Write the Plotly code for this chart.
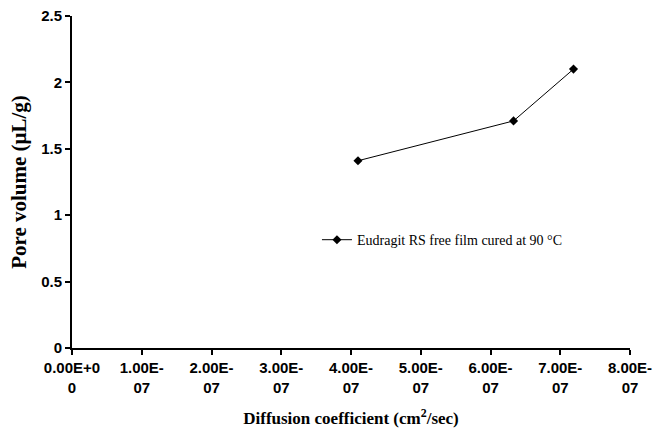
import plotly.graph_objects as go

x_vals = [4.10e-7, 6.33e-7, 7.19e-7]
y_vals = [1.41, 1.71, 2.10]
series_name = "Eudragit RS free film cured at 90 °C"
x_ticks = [0, 1e-7, 2e-7, 3e-7, 4e-7, 5e-7, 6e-7, 7e-7, 8e-7]
x_ticklabels = ["0.00E+0<br>0", "1.00E-<br>07", "2.00E-<br>07", "3.00E-<br>07", "4.00E-<br>07",
                "5.00E-<br>07", "6.00E-<br>07", "7.00E-<br>07", "8.00E-<br>07"]
y_ticks = [0, 0.5, 1, 1.5, 2, 2.5]
y_ticklabels = ["0", "0.5", "1", "1.5", "2", "2.5"]

fig = go.Figure()
fig.add_trace(go.Scatter(
    x=x_vals, y=y_vals, mode="lines+markers", name=series_name,
    line=dict(color="black", width=1),
    marker=dict(symbol="diamond", size=7, color="black"),
    cliponaxis=False,
))

tickfont = dict(family="Liberation Sans, Arial, sans-serif", size=15, color="black", weight="bold")
serif = "Liberation Serif, Times New Roman, serif"
fig.update_layout(
    width=654, height=436,
    margin=dict(l=72, r=24, t=16, b=88),
    paper_bgcolor="white", plot_bgcolor="white",
    showlegend=True,
    legend=dict(x=0.439, y=0.325, xanchor="left", yanchor="middle",
                font=dict(family=serif, size=14, color="black"),
                bgcolor="rgba(0,0,0,0)"),
    xaxis=dict(range=[0, 8e-7], tickvals=x_ticks, ticktext=x_ticklabels,
               showline=True, linecolor="black", linewidth=2, automargin=False,
               ticks="outside", ticklen=5, tickwidth=2, tickcolor="black",
               showgrid=False, zeroline=False, tickfont=tickfont,
               title=dict(text="<b>Diffusion coefficient (cm<sup>2</sup>/sec)</b>",
                          font=dict(family=serif, size=17, color="black"),
                          standoff=18)),
    yaxis=dict(range=[0, 2.5], tickvals=y_ticks, ticktext=y_ticklabels,
               showline=True, linecolor="black", linewidth=2, automargin=False,
               ticks="outside", ticklen=5, tickwidth=2, tickcolor="black",
               showgrid=False, zeroline=False, tickfont=tickfont,
               title=dict(text="<b>Pore volume (μL/g)</b>",
                          font=dict(family=serif, size=21, color="black"),
                          standoff=9)),
)
fig.write_html("out.html")
